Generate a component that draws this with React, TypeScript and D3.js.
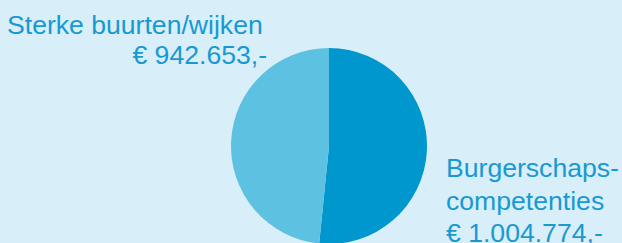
import React, { useRef, useEffect } from 'react';
import * as d3 from 'd3';

// budget per theme (euro)
const categories = ['Burgerschapscompetenties', 'Sterke buurten/wijken'];
const values = [1004774, 942653];
const colors = ['#0096ce', '#5dc2e2'];

const leftLabel = ['Sterke buurten/wijken', '€ 942.653,-'];
const rightLabel = ['Burgerschaps-', 'competenties', '€ 1.004.774,-'];

const W = 622;
const H = 243;

const App = () => {
  const ref = useRef<SVGSVGElement>(null);

  useEffect(() => {
    const svg = d3.select(ref.current);
    svg.selectAll('*').remove();

    svg.append('rect').attr('width', W).attr('height', H).attr('fill', '#d8eef8');

    const cx = 329;
    const cy = 146;
    const r = 98;

    const pie = d3.pie<number>().sort(null).value((d) => d);
    const arc = d3.arc<d3.PieArcDatum<number>>().innerRadius(0).outerRadius(r);

    const g = svg.append('g').attr('transform', `translate(${cx},${cy})`);
    g.selectAll('path')
      .data(pie(values))
      .join('path')
      .attr('d', arc)
      .attr('fill', (_, i) => colors[i])
      .attr('data-name', (_, i) => categories[i]);

    const font = 'Liberation Sans, Arial, Helvetica, sans-serif';
    const textColor = '#1799d4';
    const fs = 26.6;

    // left label (right aligned second line)
    svg.append('text')
      .attr('x', 7)
      .attr('y', 34)
      .attr('font-family', font)
      .attr('font-size', fs)
      .attr('fill', textColor)
      .text(leftLabel[0]);
    svg.append('text')
      .attr('x', 267)
      .attr('y', 64)
      .attr('text-anchor', 'end')
      .attr('font-family', font)
      .attr('font-size', fs)
      .attr('fill', textColor)
      .text(leftLabel[1]);

    // right label
    svg.append('g')
      .selectAll('text')
      .data(rightLabel)
      .join('text')
      .attr('x', 446)
      .attr('y', (_, i) => 177 + i * 32.5)
      .attr('font-family', font)
      .attr('font-size', fs)
      .attr('fill', textColor)
      .text((d) => d);
  }, []);

  return (
    <svg
      ref={ref}
      width={W}
      height={H}
      style={{ position: 'absolute', left: 0, top: 0, display: 'block' }}
    />
  );
};

export default App;
